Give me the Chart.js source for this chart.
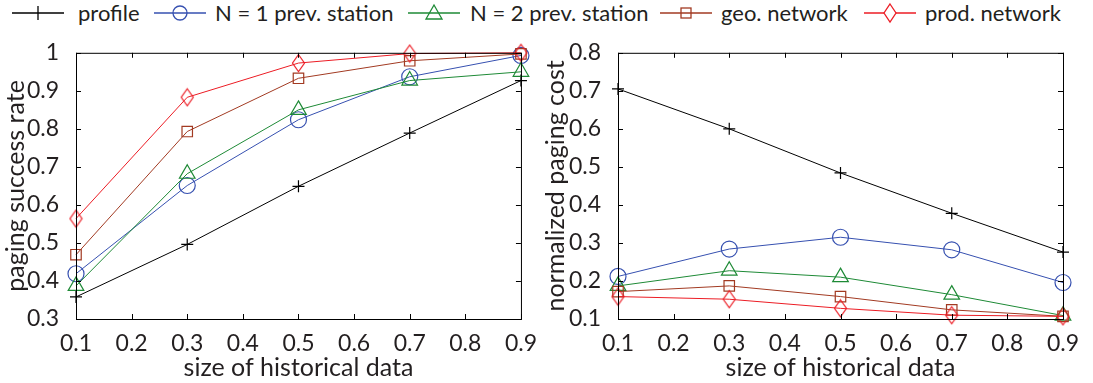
<!DOCTYPE html>
<html>
<head>
<meta charset="utf-8">
<script src="https://cdn.jsdelivr.net/npm/chart.js@4.4.0/dist/chart.umd.min.js"></script>
<style>
  body { margin: 0; background: #fff; width: 1093px; height: 383px; overflow: hidden; position: relative; font-family: Lato, sans-serif; color: #231f20; }
  .legSample { position: absolute; top: 0; }
  .legText { position: absolute; top: 0; height: 26px; line-height: 26px; font-size: 22px; white-space: nowrap; }
  .box { position: absolute; top: 30px; height: 353px; }
</style>
</head>
<body>
<div id="legend"></div>
<div class="box" style="left:0;width:540px"><canvas id="successChart"></canvas></div>
<div class="box" style="left:540px;width:553px"><canvas id="costChart"></canvas></div>
<script>
const historySizes = [0.1, 0.3, 0.5, 0.7, 0.9];
const seriesNames = ["profile", "N = 1 prev. station", "N = 2 prev. station", "geo. network", "prod. network"];

// paging success rate (left plot)
const successProfile = [0.358, 0.496, 0.649, 0.789, 0.927];
const successPrev1 = [0.419, 0.651, 0.824, 0.937, 0.993];
const successPrev2 = [0.387, 0.682, 0.850, 0.927, 0.950];
const successGeo = [0.469, 0.793, 0.933, 0.979, 0.997];
const successProd = [0.564, 0.883, 0.973, 0.998, 1.0];

// normalized paging cost (right plot)
const costProfile = [0.705, 0.600, 0.484, 0.378, 0.276];
const costPrev1 = [0.212, 0.284, 0.315, 0.282, 0.196];
const costPrev2 = [0.187, 0.227, 0.210, 0.164, 0.109];
const costGeo = [0.172, 0.187, 0.159, 0.124, 0.107];
const costProd = [0.159, 0.152, 0.128, 0.110, 0.107];

const colors = ["#000000", "#3650b0", "#1e8a36", "#a23a22", "#ec1c24"];

// tall diamond like the matlab marker
function diamondMarker(color) {
  const c = document.createElement("canvas");
  c.width = 15; c.height = 20;
  const g = c.getContext("2d");
  g.strokeStyle = color;
  g.lineWidth = 1.2;
  g.beginPath();
  g.moveTo(7.5, 1.5); g.lineTo(13.5, 10); g.lineTo(7.5, 18.5); g.lineTo(1.5, 10); g.closePath();
  g.stroke();
  return c;
}
const markers = ["cross", "circle", "triangle", "rect", diamondMarker(colors[4])];
const markerSizes = [6, 8, 9, 7.4, 8];

// legend (html text, svg markers)
const legendSampleLeft = [12, 154, 408, 660, 864];
const legendTextLeft = [78, 215, 470, 721, 925];
const markerSvg = [
  c => `<line x1="26" y1="6" x2="26" y2="20" stroke="${c}" stroke-width="1.3"/>`,
  c => `<circle cx="26" cy="13" r="7" fill="none" stroke="${c}" stroke-width="1.3"/>`,
  c => `<polygon points="26,5 34,19 18,19" fill="none" stroke="${c}" stroke-width="1.3"/>`,
  c => `<rect x="21" y="8" width="10" height="10" fill="none" stroke="${c}" stroke-width="1.3"/>`,
  c => `<polygon points="26,4 32,13 26,22 20,13" fill="white" stroke="${c}" stroke-width="1.3"/>`
];
const legend = document.getElementById("legend");
seriesNames.forEach((name, i) => {
  const sample = document.createElement("div");
  sample.className = "legSample";
  sample.style.left = legendSampleLeft[i] + "px";
  sample.innerHTML = `<svg width="52" height="26"><line x1="0" y1="13" x2="52" y2="13" stroke="${colors[i]}" stroke-width="1.3"/>${markerSvg[i](colors[i])}</svg>`;
  legend.appendChild(sample);
  const text = document.createElement("div");
  text.className = "legText";
  text.style.left = legendTextLeft[i] + "px";
  text.textContent = name;
  legend.appendChild(text);
});

// box around the plot area with inward ticks, MATLAB style
const boxTicks = {
  id: "boxTicks",
  afterDatasetsDraw(chart) {
    const { ctx, chartArea: a, scales } = chart;
    ctx.save();
    ctx.strokeStyle = "#000";
    ctx.lineWidth = 1;
    ctx.strokeRect(a.left + 0.5, a.top + 0.5, a.right - a.left, a.bottom - a.top);
    ctx.beginPath();
    scales.x.ticks.forEach(t => {
      const px = Math.round(scales.x.getPixelForValue(t.value)) + 0.5;
      ctx.moveTo(px, a.bottom); ctx.lineTo(px, a.bottom - 5);
      ctx.moveTo(px, a.top); ctx.lineTo(px, a.top + 5);
    });
    scales.y.ticks.forEach(t => {
      const py = Math.round(scales.y.getPixelForValue(t.value)) + 0.5;
      ctx.moveTo(a.left, py); ctx.lineTo(a.left + 5, py);
      ctx.moveTo(a.right, py); ctx.lineTo(a.right - 5, py);
    });
    ctx.stroke();
    ctx.restore();
  }
};

function makeDatasets(seriesList) {
  return seriesList.map((values, i) => ({
    label: seriesNames[i],
    data: historySizes.map((x, j) => ({ x: x, y: values[j] })),
    borderColor: colors[i],
    borderWidth: 1,
    pointStyle: markers[i],
    pointRadius: markerSizes[i],
    pointBorderWidth: 1.2,
    pointBorderColor: colors[i],
    pointBackgroundColor: "rgba(0,0,0,0)",
    order: 5 - i,
    clip: false,
  }));
}

const fmt = v => String(+v.toFixed(1));

function makeChart(id, seriesList, yMin, yMax, yTitle, yWidth, padRight) {
  const tickFont = { family: "Lato, sans-serif", size: 23 };
  const titleFont = { family: "Lato, sans-serif", size: 25 };
  return new Chart(document.getElementById(id), {
    type: "line",
    data: { datasets: makeDatasets(seriesList) },
    options: {
      responsive: true,
      maintainAspectRatio: false,
      animation: false,
      layout: { padding: { top: 22, right: padRight, left: 0, bottom: 0 } },
      plugins: { legend: { display: false }, tooltip: { enabled: false } },
      scales: {
        x: {
          type: "linear",
          min: 0.1,
          max: 0.9,
          grid: { display: false },
          border: { display: false },
          ticks: { stepSize: 0.1, color: "#231f20", font: tickFont, padding: 3, maxRotation: 0, callback: fmt },
          title: { display: true, text: "size of historical data", color: "#231f20", font: titleFont, padding: 0 },
          afterFit: s => { s.height = 64; },
        },
        y: {
          min: yMin,
          max: yMax,
          grid: { display: false },
          border: { display: false },
          ticks: { stepSize: 0.1, color: "#231f20", font: tickFont, padding: 9, callback: fmt },
          title: { display: true, text: yTitle, color: "#231f20", font: titleFont, padding: { top: 1, bottom: 0 } },
          afterFit: s => { s.width = yWidth; },
        },
      },
    },
    plugins: [boxTicks],
  });
}

makeChart("successChart", [successProfile, successPrev1, successPrev2, successGeo, successProd], 0.3, 1, "paging success rate", 76, 18);
makeChart("costChart", [costProfile, costPrev1, costPrev2, costGeo, costProd], 0.1, 0.8, "normalized paging cost", 78, 30);
</script>
</body>
</html>
